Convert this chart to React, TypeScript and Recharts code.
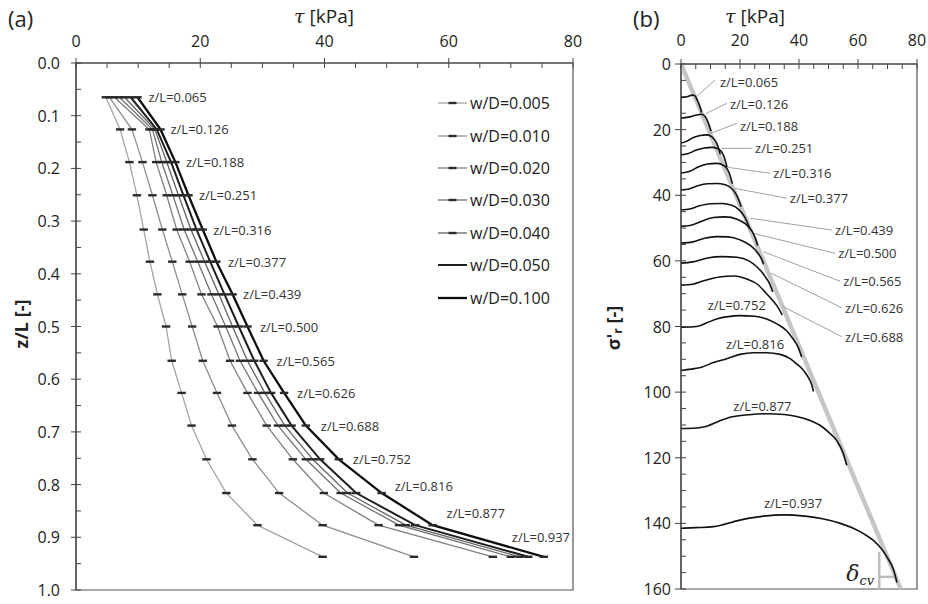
import React from 'react';
import {
  ComposedChart,
  Line,
  XAxis,
  YAxis,
  ReferenceArea,
  ReferenceLine,
  ReferenceDot,
  Legend,
} from 'recharts';

const FONT = '"Open Sans", "Noto Sans", sans-serif';
const SERIF = '"DejaVu Serif", "Liberation Serif", serif';

// ---------- Panel (a) data ----------
const Z_LEVELS = [0.065, 0.126, 0.188, 0.251, 0.316, 0.377, 0.439, 0.5, 0.565, 0.626, 0.688, 0.752, 0.816, 0.877, 0.937];
const Z_LABELS = ['z/L=0.065', 'z/L=0.126', 'z/L=0.188', 'z/L=0.251', 'z/L=0.316', 'z/L=0.377', 'z/L=0.439', 'z/L=0.500', 'z/L=0.565', 'z/L=0.626', 'z/L=0.688', 'z/L=0.752', 'z/L=0.816', 'z/L=0.877', 'z/L=0.937'];
const W_D_LABELS = ['w/D=0.005', 'w/D=0.010', 'w/D=0.020', 'w/D=0.030', 'w/D=0.040', 'w/D=0.050', 'w/D=0.100'];

const TAU_W005 = [4.8, 7.1, 8.6, 9.8, 10.9, 11.9, 13.1, 14.5, 15.4, 17.0, 18.6, 21.0, 24.2, 29.2, 39.7];
const TAU_W010 = [5.4, 9.0, 10.7, 12.3, 13.9, 15.5, 17.1, 18.7, 20.4, 22.7, 25.1, 28.4, 32.7, 39.7, 54.4];
const TAU_W020 = [6.2, 11.8, 12.9, 14.6, 16.2, 18.3, 20.2, 22.8, 24.8, 27.6, 30.7, 34.9, 39.9, 48.7, 67.1];
const TAU_W030 = [7.0, 12.3, 13.8, 15.6, 17.4, 19.6, 21.8, 24.1, 26.4, 29.3, 32.5, 37.0, 42.6, 52.0, 70.0];
const TAU_W040 = [7.8, 12.7, 14.6, 16.5, 18.5, 20.7, 23.0, 25.2, 27.6, 30.4, 33.6, 38.1, 43.7, 53.1, 71.4];
const TAU_W050 = [8.8, 13.0, 15.3, 17.3, 19.4, 21.6, 23.9, 26.2, 28.7, 31.4, 34.7, 39.3, 45.1, 54.6, 72.8];
const TAU_W100 = [9.9, 13.6, 16.0, 18.1, 20.4, 22.6, 25.2, 27.6, 30.2, 33.5, 37.0, 42.3, 49.2, 57.4, 75.3];

const TICKS_TAU = [0, 5, 10, 15, 20, 25, 30, 35, 40, 45, 50, 55, 60, 65, 70, 75, 80];
const TICKS_Z = [0, 0.05, 0.1, 0.15, 0.2, 0.25, 0.3, 0.35, 0.4, 0.45, 0.5, 0.55, 0.6, 0.65, 0.7, 0.75, 0.8, 0.85, 0.9, 0.95, 1.0];
const TICKS_SIGMA = [0, 5, 10, 15, 20, 25, 30, 35, 40, 45, 50, 55, 60, 65, 70, 75, 80, 85, 90, 95, 100, 105, 110, 115, 120, 125, 130, 135, 140, 145, 150, 155, 160];

// styles (not data)
const SERIES_A = [
  { key: 'w005', name: W_D_LABELS[0], values: TAU_W005, color: '#a4a4a4', width: 1.3, legendMarker: true },
  { key: 'w010', name: W_D_LABELS[1], values: TAU_W010, color: '#8e8e8e', width: 1.3, legendMarker: true },
  { key: 'w020', name: W_D_LABELS[2], values: TAU_W020, color: '#808080', width: 1.3, legendMarker: true },
  { key: 'w030', name: W_D_LABELS[3], values: TAU_W030, color: '#727272', width: 1.3, legendMarker: true },
  { key: 'w040', name: W_D_LABELS[4], values: TAU_W040, color: '#646464', width: 1.3, legendMarker: true },
  { key: 'w050', name: W_D_LABELS[5], values: TAU_W050, color: '#1e1e1e', width: 2.0, legendMarker: false },
  { key: 'w100', name: W_D_LABELS[6], values: TAU_W100, color: '#0e0e0e', width: 2.3, legendMarker: false },
];

const TABLE_A = Z_LEVELS.map((z, i) => {
  const row: any = { z };
  SERIES_A.forEach((s) => {
    row[s.key] = s.values[i];
  });
  return row;
});

// label offsets in px relative to the w/D=0.100 point
const LABEL_OFFSET_A = [
  [11, 0], [10, 0], [10.5, 0], [10.5, 0], [10.5, 0], [11.5, 0], [10.5, 0], [12.5, 0],
  [13, 0], [13, 0], [15, 0], [14, 0], [13, -7], [14, -12], [-32, -20],
];

// ---------- Panel (b) data: [tau, sigma'_r] ----------
const CURVE_065 = [[0, 10.2], [2, 10.0], [3.8, 9.5], [4.6, 9.6], [5.6, 11.2], [6.4, 13.0], [7.0, 14.8]];
const CURVE_126 = [[0, 16.5], [2.5, 16.2], [5, 15.6], [7, 15.3], [8.2, 16.0], [9.2, 17.8], [10.2, 20.5]];
const CURVE_188 = [[0, 24.1], [2, 23.5], [4, 22.5], [6.5, 21.8], [8.5, 21.6], [10.2, 22.0], [11.5, 23.2], [12.5, 25.0], [13.3, 27.5]];
const CURVE_251 = [[0, 27.7], [2.5, 27.3], [5, 26.3], [8, 25.6], [10.5, 25.4], [12.5, 25.8], [13.8, 26.8], [14.8, 28.8], [15.6, 31.5]];
const CURVE_316 = [[0, 33.2], [3, 32.7], [6, 31.3], [9, 30.5], [12, 30.3], [14, 30.7], [15.6, 31.9], [16.6, 33.8], [17.4, 36.5]];
const CURVE_377 = [[0, 38.4], [3, 38.0], [6, 37.0], [9, 36.5], [12, 36.4], [15, 36.8], [17, 37.8], [18.5, 39.4], [19.6, 41.5], [20.4, 43.5]];
const CURVE_439 = [[0, 44.5], [3, 44.2], [6, 43.3], [10, 42.6], [14, 42.5], [17, 43.0], [19.5, 44.3], [21.3, 46.2], [22.5, 48.3], [23.3, 50.3]];
const CURVE_500 = [[0, 49.4], [3, 49.2], [7, 47.9], [11, 46.8], [15, 46.6], [19, 47.3], [22, 48.8], [24, 50.9], [25.3, 53.3], [26.0, 55.3]];
const CURVE_565 = [[0, 54.6], [4, 54.2], [8, 53.1], [12, 52.6], [16, 52.7], [20, 53.6], [23.5, 55.3], [26, 57.6], [27.3, 59.4], [28.0, 61.0]];
const CURVE_626 = [[0, 60.7], [4, 60.3], [9, 59.1], [14, 58.7], [19, 58.9], [23, 60.0], [25.7, 61.8], [28.3, 64.5], [30.2, 67.3], [31.1, 69.5]];
const CURVE_688 = [[0, 67.4], [4, 67.1], [8, 66.0], [13, 64.9], [18, 64.6], [22.3, 65.5], [26, 67.2], [29, 70.0], [31.3, 72.3], [33.2, 74.6], [34.3, 76.5]];
const CURVE_752 = [[0, 80.2], [5.3, 80.0], [9, 78.8], [12.1, 77.7], [16, 77.0], [20, 76.7], [25, 76.9], [29, 77.7], [32.5, 79.2], [35.8, 81.3], [38, 83.8], [39.8, 86.5], [40.9, 89.3]];
const CURVE_816 = [[0, 93.4], [3.5, 93.0], [7, 92.4], [11, 91.0], [15.5, 89.8], [20, 88.5], [24.5, 88.0], [29, 88.0], [33.6, 88.5], [37, 89.8], [39.2, 91.4], [41.5, 93.3], [43.2, 95.6], [44.3, 97.7], [44.9, 99.8]];
const CURVE_877 = [[0, 111.1], [4, 111.0], [8.7, 110.4], [13, 108.8], [17, 107.6], [23, 106.9], [29, 106.6], [35, 106.8], [39.2, 107.4], [44, 108.7], [47.1, 110.1], [50, 112.2], [52.8, 114.8], [54.8, 118.2], [56.2, 122.3]];
const CURVE_937 = [[0, 141.5], [5, 141.3], [11, 141.0], [20, 139.0], [28, 137.8], [35, 137.4], [42, 137.8], [48, 138.6], [54, 140.0], [58.4, 141.5], [62, 143.2], [65.2, 145.2], [68, 147.8], [70, 150.5], [72, 154.0], [73.2, 158.0]];

const CURVES_B = [CURVE_065, CURVE_126, CURVE_188, CURVE_251, CURVE_316, CURVE_377, CURVE_439, CURVE_500, CURVE_565, CURVE_626, CURVE_688, CURVE_752, CURVE_816, CURVE_877, CURVE_937];

const FAILURE_LINE = [[0, 0], [74.5, 160]];

// label anchors (tau, sigma) and leader lines for panel (b)
const LABEL_POS_B = [
  [13.2, 5.5], [16.6, 12.2], [20.0, 18.8], [25.1, 25.7], [31.3, 33.3], [36.9, 40.9], [52.2, 50.6], [53.3, 57.7],
  [55.0, 66.2], [55.6, 74.3], [55.6, 83.1], [18.9, 73.5], [25.1, 85.2], [27.6, 104.3], [38.0, 133.9],
];
const LEADERS_B = [
  [5.5, 9.8, 11.5, 4.9], [8.2, 15.2, 15.5, 12.0], [8.7, 21.6, 18.9, 18.1], [13.8, 25.7, 24.0, 25.7],
  [16.0, 31.5, 30.2, 33.3], [18.3, 37.9, 35.8, 40.9], [23.4, 47.0, 51.1, 50.6], [24.5, 51.6, 52.2, 57.7],
  [27.9, 57.2, 53.9, 66.2], [30.7, 63.8, 54.5, 74.3], [34.7, 74.0, 54.5, 83.1],
];
const DELTA_MARK = { tau: 67.2, sigmaTop: 148.7, sigmaBottom: 160, sigmaH: 156.3, tauH: 72.4 };
const DELTA_TEXT_POS = [56.0, 157.5];

const toPts = (arr: number[][]) => arr.map(([tau, sigma]) => ({ tau, sigma }));

// ---------- ticks ----------
function makeTopTick(step: number, gap: number) {
  return (props: any) => {
    const { x, y, payload } = props;
    const v = Number(payload.value);
    const major = Math.abs(v % step) < 1e-6;
    return (
      <g>
        <line x1={x} x2={x} y1={major ? y - 5 : y} y2={y + 5} stroke="#444" strokeWidth={1} />
        {major && (
          <text x={x} y={y - gap} textAnchor="middle" dominantBaseline="central" fontSize={16} fontFamily={FONT} fill="#222">
            {v}
          </text>
        )}
      </g>
    );
  };
}

const LeftTickA = (props: any) => {
  const { x, y, payload } = props;
  const v = Number(payload.value);
  const major = Math.round(v * 100) % 10 === 0;
  return (
    <g>
      <line x1={major ? x - 5 : x} x2={x + 5} y1={y} y2={y} stroke="#444" strokeWidth={1} />
      {major && (
        <text x={x - 16} y={y} textAnchor="end" dominantBaseline="central" fontSize={16} fontFamily={FONT} fill="#222">
          {v.toFixed(1)}
        </text>
      )}
    </g>
  );
};

const LeftTickB = (props: any) => {
  const { x, y, payload } = props;
  const v = Number(payload.value);
  const major = v % 20 === 0;
  return (
    <g>
      <line x1={major ? x - 6 : x} x2={x + 5} y1={y} y2={y} stroke="#444" strokeWidth={1} />
      {major && (
        <text x={x - 10} y={y} textAnchor="end" dominantBaseline="central" fontSize={16} fontFamily={FONT} fill="#222">
          {v}
        </text>
      )}
    </g>
  );
};

const TopTickA = makeTopTick(20, 22);
const TopTickB = makeTopTick(20, 24);

// ---------- titles ----------
const TitleXA = () => (
  <g>
    <text x={8} y={27} fontSize={22} fontFamily={FONT} fill="#222">(a)</text>
    <text x={324} y={23} textAnchor="middle" fontSize={19} fontFamily={FONT} fill="#222">
      <tspan fontFamily={SERIF} fontStyle="italic">τ</tspan> [kPa]
    </text>
  </g>
);
const TitleYA = () => (
  <text x={21} y={324} transform="rotate(-90, 21, 324)" textAnchor="middle" dominantBaseline="central" fontSize={18} fontWeight={700} fontFamily={FONT} fill="#222">
    z/L [-]
  </text>
);
const TitleXB = () => (
  <g>
    <text x={43} y={27} fontSize={22} fontFamily={FONT} fill="#222">(b)</text>
    <text x={165} y={23} textAnchor="middle" fontSize={19} fontFamily={FONT} fill="#222">
      <tspan fontFamily={SERIF} fontStyle="italic">τ</tspan> [kPa]
    </text>
  </g>
);
const TitleYB = () => (
  <text x={23} y={328} transform="rotate(-90, 23, 328)" textAnchor="middle" dominantBaseline="central" fontSize={18} fontWeight={700} fontFamily={FONT} fill="#222">
    σ'<tspan fontSize={12} dy={4}>r</tspan><tspan dy={-4}> [-]</tspan>
  </text>
);

const DashDot = (props: any) => {
  const { cx, cy } = props;
  if (cx == null || cy == null || isNaN(cx) || isNaN(cy)) return <g />;
  return <line x1={cx - 4.2} x2={cx + 4.2} y1={cy} y2={cy} stroke="#2b2b2b" strokeWidth={2.4} />;
};

const LegendA = () => (
  <div style={{ fontFamily: FONT }}>
    {SERIES_A.map((s) => (
      <div key={s.key} style={{ height: 32.4, display: 'flex', alignItems: 'center' }}>
        <svg width={30} height={10} style={{ display: 'block' }}>
          <line x1={0} x2={29} y1={5} y2={5} stroke={s.color} strokeWidth={s.width} />
          {s.legendMarker && <line x1={10.5} x2={18.5} y1={5} y2={5} stroke="#2b2b2b" strokeWidth={2.4} />}
        </svg>
        <span style={{ marginLeft: 2, fontSize: 16, color: '#222', lineHeight: '20px', whiteSpace: 'nowrap' }}>{s.name}</span>
      </div>
    ))}
  </div>
);

export default function App() {
  return (
    <div style={{ position: 'absolute', left: 0, top: 0, width: 928, height: 604, background: '#fff', overflow: 'hidden' }}>
      <div style={{ position: 'absolute', left: 0, top: 0 }}>
        <ComposedChart
          layout="vertical"
          width={600}
          height={604}
          data={TABLE_A}
          margin={{ top: 0, left: 0, right: 27, bottom: 14 }}
        >
          <XAxis
            type="number"
            orientation="top"
            domain={[0, 80]}
            ticks={TICKS_TAU}
            interval={0}
            height={63}
            tickSize={0}
            tickMargin={0}
            tickLine={false}
            axisLine={{ stroke: '#444', strokeWidth: 1.2 }}
            tick={TopTickA}
            label={<TitleXA />}
          />
          <YAxis
            type="number"
            dataKey="z"
            domain={[0, 1]}
            ticks={TICKS_Z}
            interval={0}
            width={76}
            tickSize={0}
            tickMargin={0}
            tickLine={false}
            axisLine={{ stroke: '#444', strokeWidth: 1.2 }}
            tick={LeftTickA}
            label={<TitleYA />}
          />
          <ReferenceArea x1={0} x2={80} y1={0} y2={1} fill="none" stroke="#555" strokeWidth={1.2} ifOverflow="visible" />
          <Legend
            layout="vertical"
            align="center"
            verticalAlign="middle"
            wrapperStyle={{ position: 'absolute', left: 438, top: 87, width: 150, height: 230 }}
            content={() => <LegendA />}
          />
          {SERIES_A.map((s) => (
            <Line
              key={s.key}
              dataKey={s.key}
              name={s.name}
              type="linear"
              stroke={s.color}
              strokeWidth={s.width}
              dot={<DashDot />}
              activeDot={false}
              isAnimationActive={false}
            />
          ))}
          {Z_LEVELS.map((z, i) => (
            <ReferenceDot
              key={`la-${i}`}
              x={TAU_W100[i]}
              y={z}
              ifOverflow="visible"
              shape={(p: any) => (
                <text
                  x={p.cx + LABEL_OFFSET_A[i][0]}
                  y={p.cy + LABEL_OFFSET_A[i][1]}
                  dominantBaseline="central"
                  fontSize={13}
                  fontFamily={FONT}
                  fill="#333"
                >
                  {Z_LABELS[i]}
                </text>
              )}
            />
          ))}
        </ComposedChart>
      </div>

      <div style={{ position: 'absolute', left: 590, top: 0 }}>
        <ComposedChart width={338} height={604} margin={{ top: 0, left: 0, right: 11, bottom: 15 }}>
          <XAxis
            type="number"
            dataKey="tau"
            orientation="top"
            domain={[0, 80]}
            ticks={TICKS_TAU}
            interval={0}
            height={64}
            tickSize={0}
            tickMargin={0}
            tickLine={false}
            axisLine={{ stroke: '#444', strokeWidth: 1.2 }}
            tick={TopTickB}
            label={<TitleXB />}
            allowDataOverflow
          />
          <YAxis
            type="number"
            dataKey="sigma"
            domain={[0, 160]}
            reversed
            ticks={TICKS_SIGMA}
            interval={0}
            width={91}
            tickSize={0}
            tickMargin={0}
            tickLine={false}
            axisLine={{ stroke: '#444', strokeWidth: 1.2 }}
            tick={LeftTickB}
            label={<TitleYB />}
            allowDataOverflow
          />
          <ReferenceArea x1={0} x2={80} y1={0} y2={160} fill="none" stroke="#555" strokeWidth={1.2} ifOverflow="visible" />
          <Line
            data={toPts(FAILURE_LINE)}
            dataKey="sigma"
            type="linear"
            stroke="#c6c6c6"
            strokeWidth={4.5}
            dot={false}
            activeDot={false}
            isAnimationActive={false}
          />
          <ReferenceLine
            segment={[{ x: DELTA_MARK.tau, y: DELTA_MARK.sigmaTop }, { x: DELTA_MARK.tau, y: DELTA_MARK.sigmaBottom }]}
            stroke="#bdbdbd"
            strokeWidth={2.5}
            ifOverflow="visible"
          />
          <ReferenceLine
            segment={[{ x: DELTA_MARK.tau, y: DELTA_MARK.sigmaH }, { x: DELTA_MARK.tauH, y: DELTA_MARK.sigmaH }]}
            stroke="#bdbdbd"
            strokeWidth={2.5}
            ifOverflow="visible"
          />
          {LEADERS_B.map((l, i) => (
            <ReferenceLine
              key={`ld-${i}`}
              segment={[{ x: l[0], y: l[1] }, { x: l[2], y: l[3] }]}
              stroke="#a0a0a0"
              strokeWidth={1}
              ifOverflow="visible"
            />
          ))}
          {CURVES_B.map((c, i) => (
            <Line
              key={`cb-${i}`}
              data={toPts(c)}
              dataKey="sigma"
              name={Z_LABELS[i]}
              type="monotone"
              stroke="#111"
              strokeWidth={1.6}
              dot={false}
              activeDot={false}
              isAnimationActive={false}
            />
          ))}
          {LABEL_POS_B.map((p, i) => (
            <ReferenceDot
              key={`lb-${i}`}
              x={p[0]}
              y={p[1]}
              ifOverflow="visible"
              shape={(d: any) => (
                <text
                  x={d.cx}
                  y={d.cy}
                  textAnchor={i < 11 ? 'start' : 'middle'}
                  dominantBaseline="central"
                  fontSize={13}
                  fontFamily={FONT}
                  fill="#333"
                >
                  {Z_LABELS[i]}
                </text>
              )}
            />
          ))}
          <ReferenceDot
            x={DELTA_TEXT_POS[0]}
            y={DELTA_TEXT_POS[1]}
            ifOverflow="visible"
            shape={(d: any) => (
              <text x={d.cx} y={d.cy} fontFamily={SERIF} fontStyle="italic" fill="#222">
                <tspan fontSize={22}>δ</tspan>
                <tspan fontSize={13} dy={4}>cv</tspan>
              </text>
            )}
          />
        </ComposedChart>
      </div>
    </div>
  );
}
